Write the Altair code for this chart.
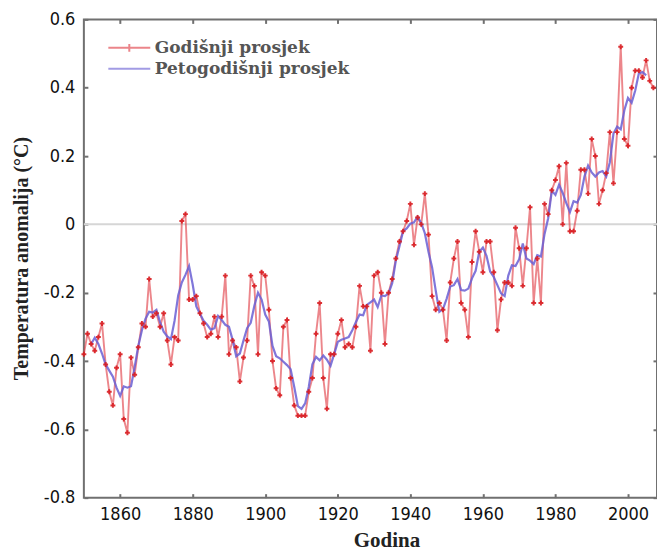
import altair as alt
import pandas as pd

# ---------------- data ----------------
years = list(range(1850, 2008))
anomaly = [
    -0.38, -0.32, -0.35, -0.37, -0.33, -0.29, -0.41, -0.49, -0.53, -0.42,   # 1850-1859
    -0.38, -0.57, -0.61, -0.39, -0.44, -0.36, -0.29, -0.30, -0.16, -0.27,   # 1860-1869
    -0.26, -0.30, -0.26, -0.34, -0.41, -0.33, -0.34, 0.01, 0.03, -0.22,     # 1870-1879
    -0.22, -0.21, -0.26, -0.29, -0.33, -0.32, -0.27, -0.33, -0.27, -0.15,   # 1880-1889
    -0.38, -0.34, -0.36, -0.46, -0.39, -0.34, -0.15, -0.18, -0.38, -0.14,   # 1890-1899
    -0.15, -0.25, -0.40, -0.48, -0.50, -0.30, -0.28, -0.45, -0.53, -0.56,   # 1900-1909
    -0.56, -0.56, -0.49, -0.45, -0.32, -0.23, -0.45, -0.54, -0.38, -0.38,   # 1910-1919
    -0.32, -0.28, -0.36, -0.35, -0.36, -0.30, -0.18, -0.24, -0.24, -0.37,   # 1920-1929
    -0.15, -0.14, -0.20, -0.35, -0.20, -0.16, -0.10, -0.05, -0.02, 0.01,    # 1930-1939
    0.06, -0.06, 0.02, 0.00, 0.09, -0.03, -0.21, -0.25, -0.23, -0.25,       # 1940-1949
    -0.34, -0.17, -0.10, -0.05, -0.23, -0.25, -0.33, -0.11, -0.02, -0.08,   # 1950-1959
    -0.14, -0.05, -0.05, -0.14, -0.31, -0.22, -0.17, -0.17, -0.18, -0.01,   # 1960-1969
    -0.07, -0.18, -0.07, 0.05, -0.23, -0.10, -0.23, 0.06, 0.03, 0.10,       # 1970-1979
    0.13, 0.17, 0.00, 0.18, -0.02, -0.02, 0.04, 0.16, 0.16, 0.09,           # 1980-1989
    0.25, 0.20, 0.06, 0.10, 0.15, 0.27, 0.12, 0.27, 0.52, 0.25,             # 1990-1999
    0.23, 0.40, 0.45, 0.45, 0.43, 0.48, 0.42, 0.40,                         # 2000-2007
]
SERIES_ANNUAL = "Godišnji prosjek"
SERIES_FIVE = "Petogodišnji prosjek"
x_ticks = [1860, 1880, 1900, 1920, 1940, 1960, 1980, 2000]
y_ticks = [-0.8, -0.6, -0.4, -0.2, 0.0, 0.2, 0.4, 0.6]
zero_level = [0.0]

df = pd.DataFrame({"year": years, "value": anomaly, "series": SERIES_ANNUAL})
zero_df = pd.DataFrame({"level": zero_level})

# ---------------- style ----------------
W, H = 574, 479
FRAME = "#707070"
RED_LINE = "#e03c44"
RED_MARK = "#d81c20"
BLUE = "#6a5fd4"
LABEL_FONT = "DejaVu Sans Condensed"
TITLE_FONT = "Liberation Serif"
LEGEND_FONT = "DejaVu Serif"

x_scale = alt.Scale(domain=[1850, 2008], nice=False, zero=False)
y_scale = alt.Scale(domain=[-0.8, 0.6], nice=False, zero=False)
color_scale = alt.Scale(domain=[SERIES_ANNUAL, SERIES_FIVE], range=[RED_LINE, BLUE])
shape_scale = alt.Scale(domain=[SERIES_ANNUAL, SERIES_FIVE],
                        range=["M-3,0H3M0,-0.55V0.55", "M-3,0H3"])

legend_def = alt.Legend(
    title=None, orient="none", legendX=37, legendY=20, padding=0,
    labelFont=LEGEND_FONT, labelFontSize=17, labelFontWeight="bold",
    labelColor="#555555", symbolSize=196, symbolStrokeWidth=2,
    labelOffset=17, rowPadding=3, labelLimit=0,
)

y_label_expr = ("abs(datum.value) < 1e-9 ? '0' : "
                "(datum.value < 0 ? '-' : '') + format(abs(datum.value), '.1f')")

x_main = alt.Axis(
    orient="bottom", values=x_ticks, format="d", ticks=False, tickSize=0,
    domain=False, grid=False, labelFont=LABEL_FONT, labelFontSize=18,
    labelColor="#111111", labelPadding=8, labelBaseline="top",
    title="Godina", titleFont=TITLE_FONT, titleFontSize=21, titleFontWeight="bold",
    titleColor="#222222", titleX=303, titleY=43, titleBaseline="middle",
    titleAlign="center",
)
y_main = alt.Axis(
    orient="left", values=y_ticks, labelExpr=y_label_expr, ticks=False,
    tickSize=0, domain=False, grid=False, labelFont=LABEL_FONT,
    labelFontSize=18, labelColor="#111111", labelPadding=9,
    title="Temperatura anomalija (°C)", titleFont=TITLE_FONT, titleFontSize=20,
    titleFontWeight="bold", titleColor="#222222", titleX=-62, titleY=239,
    titleAlign="center", titleBaseline="middle", titleAngle=270,
)
tick_common = dict(labels=False, domain=False, grid=False, ticks=True,
                   tickSize=4, tickColor=FRAME, tickWidth=2, title=None)
x_tick_bottom = alt.Axis(orient="top", offset=-H, values=x_ticks, **tick_common)
x_tick_top = alt.Axis(orient="bottom", offset=-H, values=x_ticks, **tick_common)
y_tick_left = alt.Axis(orient="right", offset=-W, values=y_ticks, **tick_common)
y_tick_right = alt.Axis(orient="left", offset=-W, values=y_ticks, **tick_common)

# ---------------- layers ----------------
zero_rule = alt.Chart(zero_df).mark_rule(color="#d6d6d6", strokeWidth=2).encode(
    y=alt.Y("level:Q", scale=y_scale, axis=None)
)

annual_line = alt.Chart(df).mark_line(strokeWidth=1.9, opacity=0.62).encode(
    x=alt.X("year:Q", scale=x_scale, axis=x_main),
    y=alt.Y("value:Q", scale=y_scale, axis=y_main),
    color=alt.Color("series:N", scale=color_scale, legend=legend_def),
)

five_line = (
    alt.Chart(df)
    .transform_window(avg="mean(value)", n="count()", frame=[-2, 2],
                      sort=[alt.SortField("year")])
    .transform_filter("datum.n == 5")
    .transform_calculate(series="'" + SERIES_FIVE + "'")
    .mark_line(strokeWidth=2.2, opacity=0.85)
    .encode(
        x=alt.X("year:Q", scale=x_scale, axis=x_tick_bottom),
        y=alt.Y("avg:Q", scale=y_scale, axis=y_tick_left),
        color=alt.Color("series:N", scale=color_scale, legend=legend_def),
    )
)

crosses = alt.Chart(df).mark_point(
    shape="cross", filled=True, size=24, color=RED_MARK, opacity=0.9
).encode(
    x=alt.X("year:Q", scale=x_scale, axis=x_tick_top),
    y=alt.Y("value:Q", scale=y_scale, axis=y_tick_right),
)

legend_layer = (
    alt.Chart(df)
    .transform_filter("false")
    .mark_point(filled=False, strokeWidth=2)
    .encode(
        x=alt.X("year:Q", scale=x_scale, axis=None),
        y=alt.Y("value:Q", scale=y_scale, axis=None),
        color=alt.Color("series:N", scale=color_scale, legend=legend_def),
        shape=alt.Shape("series:N", scale=shape_scale, legend=legend_def),
    )
)

chart = (
    alt.layer(zero_rule, annual_line, five_line, crosses, legend_layer)
    .resolve_axis(x="independent", y="independent")
    .properties(
        width=W, height=H,
        autosize=alt.AutoSizeParams(type="none"),
        padding={"left": 84, "top": 19, "right": 0, "bottom": 56},
        background="white",
    )
    .configure_view(stroke=FRAME, strokeWidth=2)
)

chart.save("out.html", embed_options={"renderer": "svg", "actions": False})
